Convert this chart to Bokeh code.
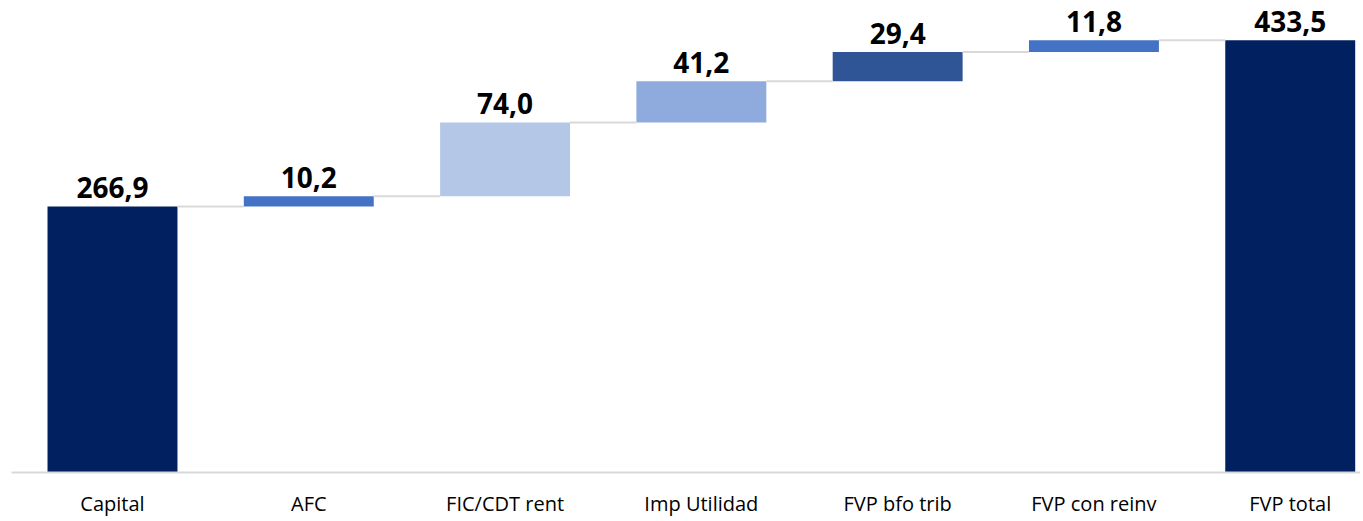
from bokeh.plotting import figure
from bokeh.models import ColumnDataSource, Range1d, FixedTicker
from bokeh.core.properties import value
from bokeh.embed import file_html
from bokeh.resources import INLINE

# ---- data ----
categories = ["Capital", "AFC", "FIC/CDT rent", "Imp Utilidad", "FVP bfo trib", "FVP con reinv", "FVP total"]
amounts = [266.9, 10.2, 74.0, 41.2, 29.4, 11.8, 433.5]
is_total = [True, False, False, False, False, False, True]
colors = ["#002060", "#4472C4", "#B4C7E7", "#8FAADC", "#2F5597", "#4472C4", "#002060"]

# ---- derived waterfall geometry ----
bottoms, tops = [], []
run = 0.0
for a, t in zip(amounts, is_total):
    if t:
        bottoms.append(0.0)
        tops.append(a)
        run = a
    else:
        bottoms.append(run)
        run += a
        tops.append(run)

xs = list(range(len(categories)))
bar_w = 0.662
labels = [f"{a:.1f}".replace(".", ",") for a in amounts]

src = ColumnDataSource(dict(x=xs, bottom=bottoms, top=tops, color=colors, label=labels))

p = figure(width=1360, height=519, output_backend="svg", toolbar_location=None,
           x_range=Range1d(-0.5145, 6.358), y_range=Range1d(0, 473.4),
           min_border_left=11, min_border_right=0, min_border_top=0, min_border_bottom=0)
p.outline_line_color = None
p.xgrid.visible = False
p.ygrid.visible = False
p.yaxis.visible = False

p.vbar(x="x", bottom="bottom", top="top", width=bar_w, fill_color="color",
       line_color=None, source=src)

# connectors
cx0 = [i + bar_w / 2 for i in xs[:-1]]
cx1 = [i + 1 - bar_w / 2 for i in xs[:-1]]
cy = tops[:-1]
p.segment(x0=cx0, y0=cy, x1=cx1, y1=cy, line_color="#D9D9D9", line_width=2)

p.text(x="x", y="top", text="label", source=src, text_align="center",
       text_baseline="bottom", y_offset=-8,
       text_font=value("Open Sans"), text_font_style="bold",
       text_font_size="28px", text_color="#000000")

ax = p.xaxis[0]
ax.ticker = FixedTicker(ticks=xs)
ax.major_label_overrides = {i: c for i, c in zip(xs, categories)}
ax.major_tick_line_color = None
ax.minor_tick_line_color = None
ax.major_tick_out = 0
ax.major_tick_in = 0
ax.axis_line_color = "#D9D9D9"
ax.axis_line_width = 2
ax.major_label_standoff = 17
ax.major_label_text_font = "Open Sans"
ax.major_label_text_font_size = "20px"
ax.major_label_text_color = "#000000"

open("out.html", "w").write(file_html(p, INLINE))
